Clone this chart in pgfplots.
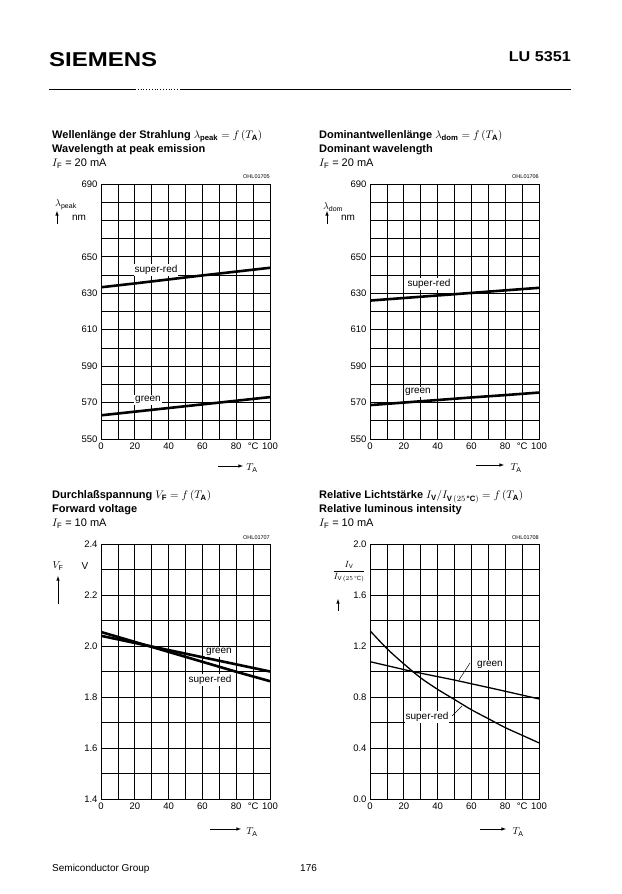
\documentclass[border=0pt]{standalone}
\usepackage{pgfplots}
\pgfplotsset{compat=1.18}
\usepackage{amsmath}
\usepackage{graphicx}
\usepackage{fontspec}
\setmainfont{Liberation Sans}
\begin{document}
\begin{tikzpicture}[x=1pt,y=1pt]
\path[use as bounding box, fill=white] (0,0) rectangle (621,894);
\pgfplotsset{
  dsaxis/.style={
    scale only axis, width=169pt, height=255pt,
    xmin=0, xmax=100,
    xtick={0,20,40,60,80,90,100},
    xticklabels={0,20,40,60,80,°C,100},
    minor xtick={10,30,50,70},
    grid=both,
    major grid style={black, line width=0.7pt},
    minor grid style={black, line width=0.7pt},
    axis line style={black, line width=0.7pt},
    major tick length=0pt, minor tick length=0pt,
    tick label style={font=\fontsize{9.5}{10}\selectfont},
  },
  thickcurve/.style={black, line width=2.6pt, no marks, line cap=butt},
  thincurve/.style={black, line width=1.3pt, no marks},
}
\def\titlefont{\fontsize{11}{12}\bfseries}
\def\subfont{\fontsize{11}{12}\selectfont}
\def\serfont{\fontsize{10}{11}\selectfont}
% ---------------- header ----------------
\node[anchor=south west, inner sep=0] at (49,827) {\resizebox{108pt}{14pt}{\bfseries SIEMENS}};
\node[anchor=south east, inner sep=0] at (571,832) {\resizebox{62pt}{10pt}{\bfseries LU 5351}};
\draw[line width=0.8pt] (49,805) -- (135,805);
\draw[line width=0.8pt, dotted] (135,805) -- (180,805);
\draw[line width=0.8pt] (180,805) -- (571,805);
% ---------------- chart 1 ----------------
\node[anchor=base west, inner sep=0] at (52,755) {\titlefont Wellenlänge der Strahlung $\lambda_{\textrm{peak}}=f\,(T_{\textrm{A}})$};
\node[anchor=base west, inner sep=0] at (52,741) {\titlefont Wavelength at peak emission};
\node[anchor=base west, inner sep=0] at (52,727) {\subfont $I_{\textrm{F}}$ = 20 mA};
\node[anchor=base east, inner sep=0] at (270,715) {\fontsize{5.5}{6}\selectfont OHL01705};
\begin{axis}[dsaxis, at={(101pt,455pt)}, anchor=south west,
  ymin=550, ymax=690,
  ytick={550,570,590,610,630,650,690},
  yticklabels={550,570,590,610,630,650,690},
  minor ytick={560,580,600,620,640,660,670,680}]
\addplot[thickcurve] coordinates {(0,633.3) (20,635.4) (40,637.6) (60,639.8) (80,641.9) (100,644.0)};
\addplot[thickcurve] coordinates {(0,563.0) (20,565.0) (40,567.0) (60,569.0) (80,571.0) (100,573.0)};
\end{axis}
\node[fill=white, inner sep=1pt] at (156,624) {\serfont super-red};
\node[fill=white, inner sep=1pt] at (148,494) {\serfont green};
\node at (66,689) {\fontsize{10}{11}\selectfont $\lambda_{\textrm{peak}}$};
\draw[-latex, line width=0.6pt] (57,670) -- (57,683);
\node at (79,676) {\serfont nm};
\draw[-latex, line width=0.6pt] (218,428) -- (243,428);
\node at (252,426) {\serfont $T_{\textrm{A}}$};
% ---------------- chart 2 ----------------
\node[anchor=base west, inner sep=0] at (319,755) {\titlefont Dominantwellenlänge $\lambda_{\textrm{dom}}=f\,(T_{\textrm{A}})$};
\node[anchor=base west, inner sep=0] at (319,741) {\titlefont Dominant wavelength};
\node[anchor=base west, inner sep=0] at (319,727) {\subfont $I_{\textrm{F}}$ = 20 mA};
\node[anchor=base east, inner sep=0] at (539,715) {\fontsize{5.5}{6}\selectfont OHL01706};
\begin{axis}[dsaxis, at={(370pt,455pt)}, anchor=south west,
  ymin=550, ymax=690,
  ytick={550,570,590,610,630,650,690},
  yticklabels={550,570,590,610,630,650,690},
  minor ytick={560,580,600,620,640,660,670,680}]
\addplot[thickcurve] coordinates {(0,626.0) (20,627.4) (40,628.8) (60,630.2) (80,631.6) (100,633.0)};
\addplot[thickcurve] coordinates {(0,568.6) (20,570.0) (40,571.4) (60,572.8) (80,574.1) (100,575.5)};
\end{axis}
\node[fill=white, inner sep=1pt] at (429,610) {\serfont super-red};
\node[fill=white, inner sep=1pt] at (418,502) {\serfont green};
\node at (333,687) {\fontsize{10}{11}\selectfont $\lambda_{\textrm{dom}}$};
\draw[-latex, line width=0.6pt] (327,670) -- (327,683);
\node at (348,676) {\serfont nm};
\draw[-latex, line width=0.6pt] (476,429) -- (504,429);
\node at (516,426) {\serfont $T_{\textrm{A}}$};
% ---------------- chart 3 ----------------
\node[anchor=base west, inner sep=0] at (52,395) {\titlefont Durchlaßspannung $V_{\textrm{F}}=f\,(T_{\textrm{A}})$};
\node[anchor=base west, inner sep=0] at (52,381) {\titlefont Forward voltage};
\node[anchor=base west, inner sep=0] at (52,367) {\subfont $I_{\textrm{F}}$ = 10 mA};
\node[anchor=base east, inner sep=0] at (270,354) {\fontsize{5.5}{6}\selectfont OHL01707};
\begin{axis}[dsaxis, at={(101pt,95pt)}, anchor=south west,
  ymin=1.4, ymax=2.4,
  ytick={1.4,1.6,1.8,2.0,2.2,2.4},
  yticklabels={1.4,1.6,1.8,2.0,2.2,2.4},
  minor ytick={1.5,1.7,1.9,2.1,2.3}]
\addplot[thickcurve] coordinates {(0,2.055) (20,2.016) (40,1.977) (60,1.938) (80,1.899) (100,1.862)};
\addplot[thickcurve] coordinates {(0,2.040) (20,2.012) (40,1.984) (60,1.956) (80,1.928) (100,1.900)};
\end{axis}
\node[fill=white, inner sep=1pt] at (219,242) {\serfont green};
\node[fill=white, inner sep=1pt] at (210,214) {\serfont super-red};
\node at (58,328) {\fontsize{10}{11}\selectfont $V_{\textrm{F}}$};
\node at (85,328) {\serfont V};
\draw[-latex, line width=0.6pt] (58,290) -- (58,318);
\draw[-latex, line width=0.6pt] (210,65) -- (241,65);
\node at (252,62) {\serfont $T_{\textrm{A}}$};
% ---------------- chart 4 ----------------
\node[anchor=base west, inner sep=0] at (319,395) {\titlefont Relative Lichtstärke $I_{\textrm{V}}/I_{\textrm{V}\,(25\,\textrm{°C})}=f\,(T_{\textrm{A}})$};
\node[anchor=base west, inner sep=0] at (319,381) {\titlefont Relative luminous intensity};
\node[anchor=base west, inner sep=0] at (319,367) {\subfont $I_{\textrm{F}}$ = 10 mA};
\node[anchor=base east, inner sep=0] at (539,354) {\fontsize{5.5}{6}\selectfont OHL01708};
\begin{axis}[dsaxis, at={(370pt,95pt)}, anchor=south west,
  ymin=0, ymax=2.0,
  ytick={0,0.4,0.8,1.2,1.6,2.0},
  yticklabels={0.0,0.4,0.8,1.2,1.6,2.0},
  minor ytick={0.2,0.6,1.0,1.4,1.8}]
\addplot[thincurve] coordinates {(0,1.077) (25,1.0) (50,0.933) (75,0.860) (100,0.785)};
\addplot[thincurve, smooth] coordinates {(0,1.32) (10,1.18) (20,1.06) (30,0.95) (40,0.86) (50,0.78) (60,0.70) (70,0.63) (80,0.56) (90,0.50) (100,0.44)};
\end{axis}
\node[fill=white, inner sep=1pt] at (490,229) {\serfont green};
\draw[line width=0.5pt] (470,231) -- (459,214);
\node[fill=white, inner sep=1pt] at (427,177) {\serfont super-red};
\draw[line width=0.5pt] (452,178) -- (462,188);
\node[fill=white, inner sep=1pt] at (349,322) {\fontsize{9}{10}\selectfont $\dfrac{I_{\textrm{V}}}{I_{\textrm{V}\,(25\,\textrm{°C})}}$};
\draw[-latex, line width=0.6pt] (338,283) -- (338,295);
\draw[-latex, line width=0.6pt] (480,65) -- (506,65);
\node at (518,62) {\serfont $T_{\textrm{A}}$};
% ---------------- footer ----------------
\node[anchor=base west, inner sep=0] at (52,22) {\fontsize{10}{11}\selectfont Semiconductor Group};
\node[anchor=base west, inner sep=0] at (300,22) {\fontsize{10}{11}\selectfont 176};
\end{tikzpicture}
\end{document}
